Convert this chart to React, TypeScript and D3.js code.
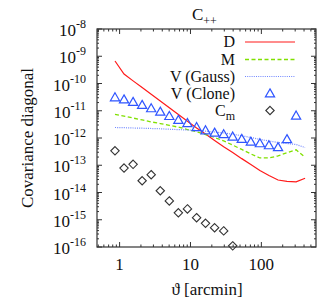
import * as d3 from "d3"

// angular bins [arcmin]
const theta = [0.861, 1.155, 1.55, 2.08, 2.79, 3.75, 5.03, 6.75, 9.06, 12.2, 16.3,
  21.9, 29.4, 39.4, 52.9, 71, 95.3, 128, 172, 230, 309, 414]

const covD = [6.7e-10, 2.23e-10, 1.25e-10, 7.07e-11, 4.01e-11, 2.3e-11, 1.29e-11, 7.3e-12,
  4.14e-12, 2.35e-12, 1.4e-12, 8.1e-13, 4.8e-13, 2.94e-13, 1.75e-13, 1.07e-13, 6.4e-14,
  4.2e-14, 2.88e-14, 2.58e-14, 2.47e-14, 3.32e-14]

const covM = [7.4e-12, 6.4e-12, 5.4e-12, 4.6e-12, 3.9e-12, 3.4e-12, 2.9e-12, 2.5e-12,
  2.05e-12, 1.7e-12, 1.34e-12, 1.04e-12, 7.8e-13, 5.5e-13, 3.8e-13, 2.6e-13, 1.85e-13,
  1.85e-13, 2.2e-13, 2.9e-13, 3.7e-13, 1.95e-13]

const covGauss = [2.43e-12, 2.39e-12, 2.33e-12, 2.29e-12, 2.23e-12, 2.18e-12, 2.1e-12,
  2.03e-12, 1.97e-12, 1.88e-12, 1.78e-12, 1.66e-12, 1.53e-12, 1.37e-12, 1.21e-12,
  1.04e-12, 8.95e-13, 7.76e-13, 6.84e-13, 6.28e-13, 5.77e-13, 4.48e-13]

const covClone = [3.1e-11, 2.6e-11, 2.1e-11, 1.63e-11, 1.23e-11, 9.2e-12, 6.4e-12, 4.6e-12,
  3.5e-12, 2.5e-12, 1.9e-12, 1.56e-12, 1.37e-12, 1.12e-12, 9.2e-13, 7.3e-13, 6.4e-13,
  5.4e-13, 4.6e-13, 9.0e-13, 6.6e-12]

const covCm = [3.4e-13, 7.9e-14, 1.08e-13, 2.7e-14, 4.5e-14, 1.16e-14, 4.9e-15, 1.8e-15,
  2.5e-15, 1.19e-15, 7.4e-16, 5.1e-16, 3.9e-16, 1.1e-16]

const xTicks = [1, 10, 100]
const yExps = [-8, -9, -10, -11, -12, -13, -14, -15, -16]

const W = 326
const H = 307
const left = 97, right = 316, top = 29, bottom = 247
const FONT = "'Liberation Serif', 'DejaVu Serif', serif"

export default function App() {
  const x = d3.scaleLog().domain([0.48, 590]).range([left, right])
  const y = d3.scaleLog().domain([1e-16, 1e-8]).range([bottom, top])

  const line = d3.line<[number, number]>()
    .x((d) => x(d[0]))
    .y((d) => y(d[1]))

  const pts = (vals: number[]) => vals.map((v, i) => [theta[i], v] as [number, number])

  // minor ticks
  const xMinor: number[] = []
  for (let dec = 0.1; dec <= 100; dec *= 10) {
    for (let k = 2; k <= 9; k++) {
      const v = dec * k
      if (v >= 0.48 && v <= 590) xMinor.push(v)
    }
  }
  const yMinor: number[] = []
  yExps.slice(1).forEach((e) => {
    for (let k = 2; k <= 9; k++) yMinor.push(k * Math.pow(10, e))
  })

  const tri = (cx: number, cy: number) => {
    const r = 4.6
    return `M${cx},${cy - r}L${cx + r},${cy + r * 0.75}L${cx - r},${cy + r * 0.75}Z`
  }
  const dia = (cx: number, cy: number) => {
    const r = 4.2
    return `M${cx},${cy - r}L${cx + r},${cy}L${cx},${cy + r}L${cx - r},${cy}Z`
  }

  const frame = "#333"
  const red = "#ff1a1a"
  const green = "#80e000"
  const blueDot = "#6f86ff"
  const blue = "#2f55ff"

  const legendRows = [42, 59.5, 76.5, 93.5, 110.5]
  const lx1 = 245, lx2 = 295, lTextX = 235

  return (
    <svg width={W} height={H} style={{ position: "absolute", left: 0, top: 0, background: "#fff" }}
      fontFamily={FONT}>
      <defs>
        <clipPath id="plot">
          <rect x={left} y={top - 6} width={right - left} height={bottom - top + 6} />
        </clipPath>
      </defs>

      {/* ticks */}
      <g stroke={frame} strokeWidth={1}>
        {xTicks.map((t) => (
          <g key={"xt" + t}>
            <line x1={x(t)} x2={x(t)} y1={bottom} y2={bottom - 5} />
            <line x1={x(t)} x2={x(t)} y1={top} y2={top + 5} />
          </g>
        ))}
        {xMinor.map((t) => (
          <g key={"xm" + t}>
            <line x1={x(t)} x2={x(t)} y1={bottom} y2={bottom - 2.5} />
            <line x1={x(t)} x2={x(t)} y1={top} y2={top + 2.5} />
          </g>
        ))}
        {yExps.map((e) => (
          <g key={"yt" + e}>
            <line x1={left} x2={left + 5} y1={y(Math.pow(10, e))} y2={y(Math.pow(10, e))} />
            <line x1={right} x2={right - 5} y1={y(Math.pow(10, e))} y2={y(Math.pow(10, e))} />
          </g>
        ))}
        {yMinor.map((v, i) => (
          <g key={"ym" + i}>
            <line x1={left} x2={left + 2} y1={y(v)} y2={y(v)} />
            <line x1={right} x2={right - 2} y1={y(v)} y2={y(v)} />
          </g>
        ))}
      </g>

      {/* tick labels */}
      {yExps.map((e) => (
        <text key={"yl" + e} x={86} y={y(Math.pow(10, e)) + 7} textAnchor="end" fontSize={17} fill="#111">
          10<tspan fontSize={12} dy={-8}>{String(e)}</tspan>
        </text>
      ))}
      {xTicks.map((t) => (
        <text key={"xl" + t} x={x(t)} y={270} textAnchor="middle" fontSize={17} fill="#111">
          {t}
        </text>
      ))}

      {/* axis titles */}
      <text x={207} y={295} textAnchor="middle" fontSize={17} fill="#111">ϑ [arcmin]</text>
      <text transform="translate(33,138) rotate(-90)" textAnchor="middle" fontSize={17} fill="#111">
        Covariance diagonal
      </text>
      <text x={192} y={20} fontSize={17} fill="#111">
        C<tspan fontSize={12} dy={5}>++</tspan>
      </text>

      {/* data */}
      <g clipPath="url(#plot)" fill="none">
        <path d={line(pts(covD)) || ""} stroke={red} strokeWidth={1.2} />
        <path d={line(pts(covM)) || ""} stroke={green} strokeWidth={1.3} strokeDasharray="4,2.5" />
        <path d={line(pts(covGauss)) || ""} stroke={blueDot} strokeWidth={1.2} strokeDasharray="1,1.2" />
        {covClone.map((v, i) => (
          <path key={"c" + i} d={tri(x(theta[i]), y(v))} stroke={blue} strokeWidth={1.2} />
        ))}
      </g>
      <g fill="none">
        {covCm.map((v, i) => (
          <path key={"m" + i} d={dia(x(theta[i]), Math.min(y(v), bottom - 1))} stroke="#333" strokeWidth={1.1} />
        ))}
      </g>

      {/* legend */}
      <g fontSize={16} fill="#111" textAnchor="end">
        <text x={lTextX} y={legendRows[0] + 5}>D</text>
        <text x={lTextX} y={legendRows[1] + 5}>M</text>
        <text x={lTextX} y={legendRows[2] + 5}>V (Gauss)</text>
        <text x={lTextX} y={legendRows[3] + 5}>V (Clone)</text>
        <text x={lTextX} y={legendRows[4] + 5}>C<tspan fontSize={12} dy={4}>m</tspan></text>
      </g>
      <line x1={lx1} x2={lx2} y1={legendRows[0]} y2={legendRows[0]} stroke={red} strokeWidth={1.2} />
      <line x1={lx1} x2={lx2} y1={legendRows[1]} y2={legendRows[1]} stroke={green} strokeWidth={1.3} strokeDasharray="4,2.5" />
      <line x1={lx1} x2={lx2} y1={legendRows[2]} y2={legendRows[2]} stroke={blueDot} strokeWidth={1.2} strokeDasharray="1,1.2" />
      <path d={tri(270, legendRows[3])} fill="none" stroke={blue} strokeWidth={1.2} />
      <path d={dia(270, legendRows[4])} fill="none" stroke="#333" strokeWidth={1.1} />

      {/* frame */}
      <rect x={left} y={top} width={right - left} height={bottom - top} fill="none" stroke={frame} strokeWidth={1.2} />
    </svg>
  )
}
